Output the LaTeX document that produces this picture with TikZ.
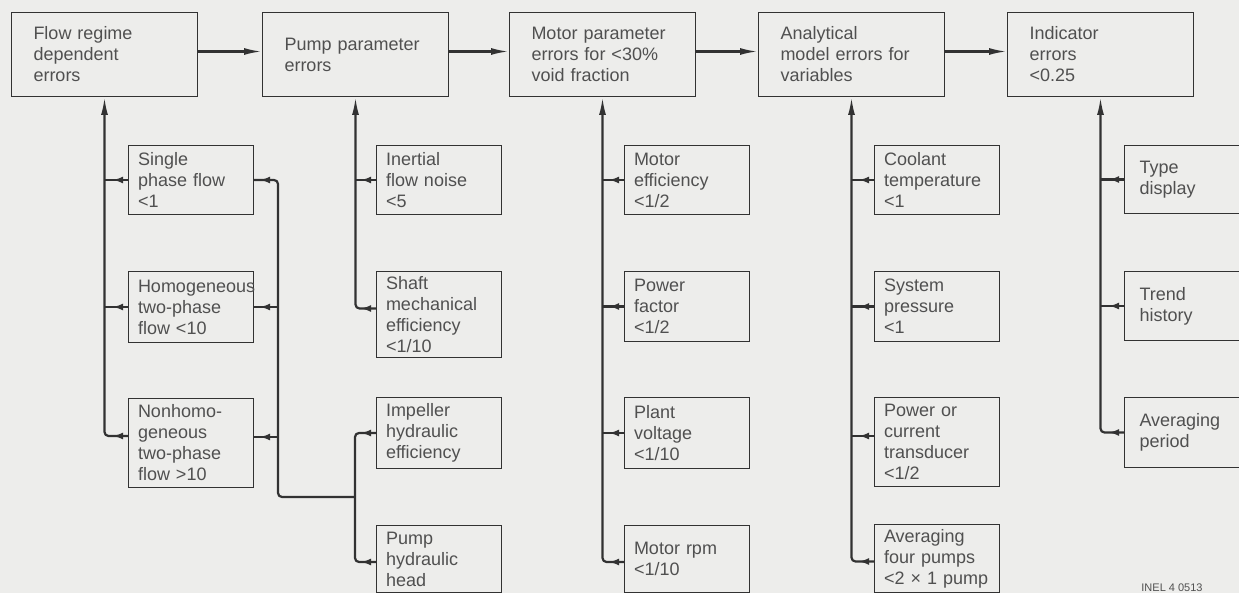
\documentclass[tikz,border=0pt]{standalone}
\usepackage{fontspec}
\setmainfont{Liberation Sans}
\usetikzlibrary{arrows.meta,decorations.markings}
\definecolor{paper}{RGB}{237,237,235}
\definecolor{ink}{RGB}{50,50,50}
\definecolor{txt}{RGB}{80,80,80}

\begin{document}
\begin{tikzpicture}[x=0.5pt,y=-0.5pt]
\tikzset{font={\fontsize{9}{10.5}\selectfont\hyphenpenalty=10000}}
\tikzset{
  box/.style={draw=ink,line width=0.5pt,anchor=north west,align=left,text=txt,inner sep=0pt},
  topbox/.style={box,minimum width=93pt,minimum height=42pt,text width=71pt},
  subbox/.style={box,minimum width=62.5pt,text width=53pt},
  wire/.style={draw=ink,line width=1.1pt,rounded corners=2pt},
  tip/.style={-{Latex[length=9pt,width=3.5pt]}},
  feed/.style={wire,decoration={markings,mark=at position 7.5pt with {\arrow{Latex[length=5pt,width=3.5pt]}}},postaction=decorate},
  into/.style={wire,decoration={markings,mark=at position -3pt with {\arrow{Latex[length=5pt,width=3.5pt]}}},postaction=decorate}
}
\useasboundingbox (0,0) rectangle (1239,593);
\clip (0,0) rectangle (1239,593);
\fill[paper] (0,0) rectangle (1239,593);

%Top row
\node[topbox] (flow) at (11,12) {Flow regime\\dependent\\errors};
\node[topbox] (pump) at (262,12) {Pump parameter\\errors};
\node[topbox] (motor) at (509,12) {Motor parameter\\errors for <30\%\\void fraction};
\node[topbox] (analyt) at (758,12) {Analytical\\model errors for\\variables};
\node[topbox] (indic) at (1007,12) {Indicator\\errors\\<0.25};

%Flow regime
\node[subbox,minimum height=34.5pt] (single) at (128,145) {Single\\phase flow\\<1};
\node[subbox,minimum height=35.5pt] (homog) at (128,271) {Homogeneous\\two-phase\\flow <10};
\node[subbox,minimum height=44.5pt] (nonhomo) at (128,398) {Nonhomo-\\geneous\\two-phase\\flow >10};

%Pump
\node[subbox,minimum height=34.5pt] (inertial) at (376,145) {Inertial\\flow noise\\<5};
\node[subbox,minimum height=43pt] (shaft) at (376,271) {Shaft\\mechanical\\efficiency\\<1/10};
\node[subbox,minimum height=35.5pt] (impeller) at (376,397) {Impeller\\hydraulic\\efficiency};
\node[subbox,minimum height=33.5pt] (pumphead) at (376,525) {Pump\\hydraulic\\head};

%Motor
\node[subbox,minimum height=34.5pt] (moteff) at (624,145) {Motor\\efficiency\\<1/2};
\node[subbox,minimum height=35pt] (pfactor) at (624,271) {Power\\factor\\<1/2};
\node[subbox,minimum height=35.5pt] (voltage) at (624,397) {Plant\\voltage\\<1/10};
\node[subbox,minimum height=33.5pt] (rpm) at (624,525) {Motor rpm\\<1/10};

%Analytical model
\node[subbox,minimum height=34.5pt] (coolant) at (874,145) {Coolant\\temperature\\<1};
\node[subbox,minimum height=35pt] (syspress) at (874,271) {System\\pressure\\<1};
\node[subbox,minimum height=44.5pt] (transd) at (874,397) {Power or\\current\\transducer\\<1/2};
\node[subbox,minimum height=34pt] (avgpumps) at (874,524) {Averaging\\four pumps\\\mbox{<2 × 1 pump}};

%Indicator
\node[subbox,minimum width=70pt,text width=55pt,minimum height=34pt] (typedisp) at (1124,145) {Type\\display};
\node[subbox,minimum width=70pt,text width=55pt,minimum height=34.5pt] (trend) at (1124,271) {Trend\\history};
\node[subbox,minimum width=70pt,text width=55pt,minimum height=35pt] (avgper) at (1124,397) {Averaging\\period};

\node[font=\fontsize{5.5}{6}\selectfont,text=txt] (inel) at (1172,588) {INEL 4 0513};

%Top arrows
\foreach \a/\b in {flow/pump,pump/motor,motor/analyt,analyt/indic}
\draw[wire,tip] ([yshift=1.5pt]\a.east) -- ([yshift=1.5pt]\b.west);

%Trunks
\draw[feed,tip] ([yshift=3.5pt]nonhomo.west) -| (flow.south);
\foreach \n in {single,homog}
\draw[feed] (\n.west) -- (\n.west -| flow.south);

\draw[feed,tip] ([yshift=3pt]shaft.west) -| (pump.south);
\draw[feed] (inertial.west) -- (inertial.west -| pump.south);

\draw[feed,tip] ([yshift=-1.5pt]rpm.west) -| (motor.south);
\foreach \n in {moteff,pfactor,voltage}
\draw[feed] (\n.west) -- (\n.west -| motor.south);

\draw[feed,tip] ([yshift=-1.5pt]avgpumps.west) -| (analyt.south);
\foreach \n in {coolant,syspress}
\draw[feed] (\n.west) -- (\n.west -| analyt.south);
\draw[feed] ([yshift=3pt]transd.west) -- ([yshift=3pt]transd.west -| analyt.south);

\draw[feed,tip] (avgper.west) -| (indic.south);
\foreach \n in {typedisp,trend}
\draw[feed] (\n.west) -- (\n.west -| indic.south);

%Pump hydraulics back to flow regime
\coordinate (jA) at (278,497);
\coordinate (jB) at (355,497);
\draw[feed] (impeller.west) -| (jB);
\draw[feed] ([yshift=-1.5pt]pumphead.west) -| (jB);
\draw[into] (jB) -- (jA) |- (single.east);
\draw[into] (jA |- homog.east) -- (homog.east);
\draw[into] ([yshift=3pt]nonhomo.east -| jA) -- ([yshift=3pt]nonhomo.east);

\end{tikzpicture}
\end{document}
